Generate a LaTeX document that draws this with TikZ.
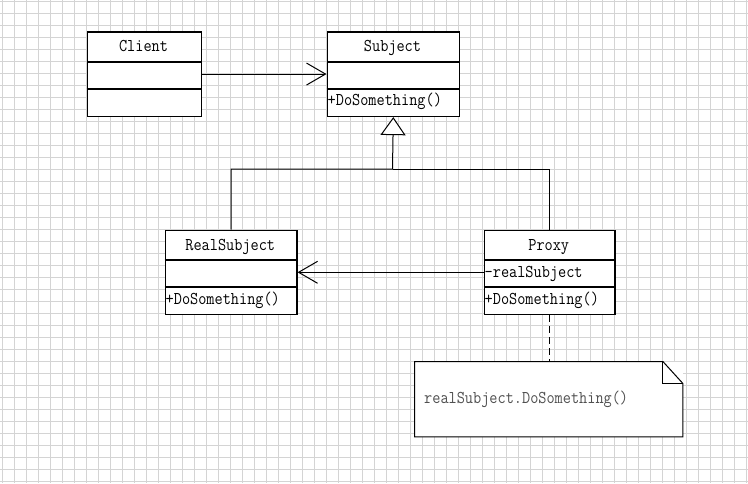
\documentclass[tikz,border=0pt]{standalone}
\usepackage{fontspec}
\setmonofont{Latin Modern Mono}[FakeStretch=0.88]
\usetikzlibrary{arrows.meta,calc}
\definecolor{gridcol}{HTML}{D4D4D4}
\definecolor{notetext}{HTML}{505050}
\tikzset{
  cls/.style={draw=black, line width=1.6pt, fill=white, rectangle, inner sep=0pt, anchor=north west},
  divider/.style={draw=black, line width=1.6pt},
  ttl/.style={font=\fontsize{18}{18}\selectfont\ttfamily, anchor=base, inner sep=0pt, text=black},
  mem/.style={font=\fontsize{18}{18}\selectfont\ttfamily, anchor=base west, inner sep=0pt, text=black},
  assoc/.style={draw=black, line width=1pt, -{Straight Barb[length=19pt,width=22pt,line width=1pt]}},
  gen/.style={draw=black, line width=1pt, -{Triangle[open,fill=white,length=18pt,width=25pt,line width=1pt]}},
  conn/.style={draw=black, line width=1pt},
  dep/.style={draw=black, line width=1.2pt, dash pattern=on 7pt off 4pt},
  noteline/.style={draw=black, line width=1pt},
  notetxt/.style={font=\fontsize{18}{18}\selectfont\ttfamily, anchor=base west, inner sep=0pt, text=notetext}
}
\begin{document}
\begin{tikzpicture}[x=1pt,y=-1pt]
\useasboundingbox (0,0) rectangle (748,483);
\fill[white] (0,0) rectangle (748,483);
% grid
\foreach \gx in {2.5,14.5,...,746.5} \draw[gridcol, line width=0.7pt] (\gx,0) -- (\gx,483);
\foreach \gy in {1,13,...,481} \draw[gridcol, line width=0.7pt] (0,\gy) -- (748,\gy);

% Client
\node[cls, minimum width=114pt, minimum height=84.5pt] (client) at (86.5,31) {};
\draw[divider] (86.5,62) -- (200.5,62);
\draw[divider] (86.5,89) -- (200.5,89);
\node[ttl] (clientT) at (143.5,51.5) {Client};

% Subject
\node[cls, minimum width=132pt, minimum height=84.5pt] (subject) at (326.5,31) {};
\draw[divider] (326.5,62) -- (458.5,62);
\draw[divider] (326.5,89) -- (458.5,89);
\node[ttl] (subjectT) at (392.5,51.5) {Subject};
\node[mem] (subjectM) at (327.5,105.5) {+DoSomething()};

% RealSubject
\node[cls, minimum width=131.5pt, minimum height=84pt] (real) at (164.5,229.5) {};
\draw[divider] (164.5,260) -- (296,260);
\draw[divider] (164.5,287) -- (296,287);
\node[ttl] (realT) at (230.25,250) {RealSubject};
\node[mem] (realM) at (165.5,304) {+DoSomething()};

% Proxy
\node[cls, minimum width=130.5pt, minimum height=84pt] (proxy) at (483.5,229.5) {};
\draw[divider] (483.5,260) -- (614,260);
\draw[divider] (483.5,287) -- (614,287);
\node[ttl] (proxyT) at (548.75,250) {Proxy};
\node[mem] (proxyA) at (484.5,277) {-realSubject};
\node[mem] (proxyM) at (484.5,304) {+DoSomething()};

% associations
\draw[assoc] (client.east) -- (subject.west);
\draw[assoc] (proxy.west) -- (real.east);

% generalization
\coordinate (junction) at (392.5,169);
\draw[conn] (proxy.north) |- (junction);
\draw[gen] (real.north) |- (junction) -- (subject.south);

% note
\node[rectangle, fill=white, draw=none, inner sep=0pt, minimum width=268pt, minimum height=75pt, anchor=north west] (note) at (414.5,361.5) {};
\draw[noteline] (note.north west) -- ($(note.north east)+(-20,0)$) -- ($(note.north east)+(0,22)$) -- (note.south east) -- (note.south west) -- cycle;
\draw[noteline] ($(note.north east)+(-20,0)$) -- ($(note.north east)+(-20,22)$) -- ($(note.north east)+(0,22)$);
\node[notetxt] (noteT) at (424,403.5) {realSubject.DoSomething()};
\draw[dep] (proxy.south) -- (proxy.south |- note.north);
\end{tikzpicture}
\end{document}
